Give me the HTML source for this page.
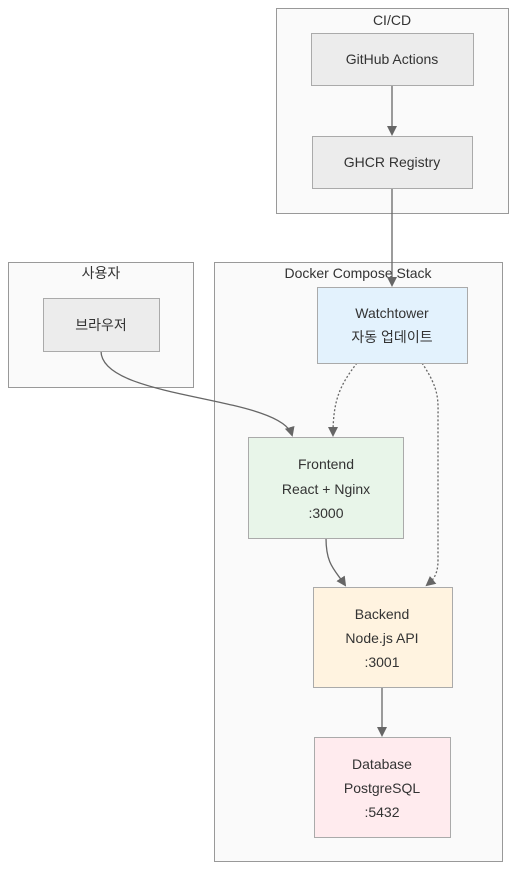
<!DOCTYPE html>
<html><head><meta charset="utf-8"><style>
html,body{margin:0;padding:0;background:#fff;}
svg text{font-family:"Liberation Sans","Noto Sans CJK KR",sans-serif;font-size:14px;fill:#333;text-anchor:middle;}
</style></head><body>
<svg width="524" height="883" viewBox="0 0 524 883" xmlns="http://www.w3.org/2000/svg">
<defs><marker id="a" markerWidth="10" markerHeight="10" refX="8" refY="5" orient="auto" markerUnits="userSpaceOnUse"><path d="M0,0 L10,5 L0,10 z" fill="#666"/></marker></defs>
<rect x="276.5" y="8.5" width="232" height="205" fill="#fafafa" stroke="#999"/>
<text x="392" y="25">CI/CD</text>
<rect x="8.5" y="262.5" width="185" height="125" fill="#fafafa" stroke="#999"/>
<text x="101" y="278">사용자</text>
<rect x="214.5" y="262.5" width="288" height="599" fill="#fafafa" stroke="#999"/>
<text x="358" y="278">Docker Compose Stack</text>
<g fill="none" stroke="#666" stroke-width="1.3">
<path d="M392,85 L392,134" marker-end="url(#a)"/>
<path d="M392,188 L392,285" marker-end="url(#a)"/>
<path d="M101,351 C101,400 280,395 292,435" marker-end="url(#a)"/>
<path d="M326,538 C326,565 335,570 345,585" marker-end="url(#a)"/>
<path d="M382,687 L382,735" marker-end="url(#a)"/>
<path d="M357,363 C340,385 333,400 333,435" stroke-dasharray="2,2" marker-end="url(#a)"/>
<path d="M422,363 C440,390 438,400 438,420 L438,560 C438,575 433,580 427,585" stroke-dasharray="2,2" marker-end="url(#a)"/>
</g>
<rect x="311.5" y="33.5" width="162" height="52" fill="#ececec" stroke="#aaa"/>
<text x="392" y="64">GitHub Actions</text>
<rect x="312.5" y="136.5" width="160" height="52" fill="#ececec" stroke="#aaa"/>
<text x="392" y="167">GHCR Registry</text>
<rect x="43.5" y="298.5" width="116" height="53" fill="#ececec" stroke="#aaa"/>
<text x="101" y="330">브라우저</text>
<rect x="317.5" y="287.5" width="150" height="76" fill="#e3f2fd" stroke="#aaa"/>
<text x="392" y="318">Watchtower</text>
<text x="392" y="342">자동 업데이트</text>
<rect x="248.5" y="437.5" width="155" height="101" fill="#e8f5e9" stroke="#aaa"/>
<text x="326" y="469">Frontend</text>
<text x="326" y="494">React + Nginx</text>
<text x="326" y="518">:3000</text>
<rect x="313.5" y="587.5" width="139" height="100" fill="#fff3e0" stroke="#aaa"/>
<text x="382" y="619">Backend</text>
<text x="382" y="643">Node.js API</text>
<text x="382" y="667">:3001</text>
<rect x="314.5" y="737.5" width="136" height="100" fill="#ffebee" stroke="#aaa"/>
<text x="382" y="769">Database</text>
<text x="382" y="793">PostgreSQL</text>
<text x="382" y="817">:5432</text>
</svg>
</body></html>
